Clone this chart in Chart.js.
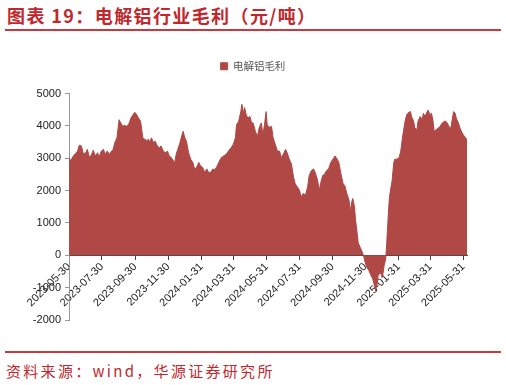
<!DOCTYPE html>
<html>
<head>
<meta charset="utf-8">
<script src="https://cdn.jsdelivr.net/npm/chart.js@4.4.1/dist/chart.umd.min.js"></script>
<style>
  body { margin: 0; width: 506px; height: 385px; background: #fff; position: relative; overflow: hidden; font-family: "Noto Sans CJK SC", sans-serif; }
  #title { position: absolute; left: 7px; top: 2px; font-size: 18px; font-weight: bold; color: #c0282d; letter-spacing: 1.4px; white-space: nowrap; }
  .rule { position: absolute; left: 5px; width: 496px; background: #c83a3e; }
  #source { position: absolute; left: 6px; top: 360px; font-size: 15px; color: #c0282d; letter-spacing: 2.3px; white-space: nowrap; }
  #box { position: absolute; left: 0; top: 34px; width: 506px; height: 310px; }
</style>
</head>
<body>
<div id="title">图表 19：电解铝行业毛利（元/吨）</div>
<div class="rule" style="top:29px;height:2px"></div>
<div id="box"><canvas id="grossChart"></canvas></div>
<div class="rule" style="top:351px;height:2px"></div>
<div id="source">资料来源：wind，华源证券研究所</div>
<script>
// days after 2023-05-30
const days = [
  0, 3, 8, 12, 16, 19, 23, 27, 31, 34, 38, 42, 45, 49, 53, 56, 60, 64, 67, 71,
  75, 79, 82, 85, 89, 93, 96, 100, 103, 107, 111, 115, 118, 122, 126, 129, 133, 137, 141, 144,
  148, 150, 153, 157, 160, 164, 168, 171, 175, 179, 183, 186, 190, 194, 196, 199, 202, 206, 210, 212,
  215, 218, 222, 226, 230, 233, 237, 241, 244, 248, 252, 256, 259, 263, 267, 270, 274, 278, 282, 287,
  292, 296, 301, 305, 309, 311, 315, 319, 321, 324, 326, 329, 332, 336, 339, 342, 346, 350, 353, 357,
  360, 363, 366, 368, 372, 376, 379, 383, 387, 391, 394, 398, 402, 405, 409, 413, 417, 420, 424, 428,
  431, 435, 439, 443, 446, 450, 454, 457, 461, 465, 467, 471, 475, 478, 482, 486, 490, 494, 498, 501,
  505, 509, 512, 516, 520, 522, 525, 527, 530, 532, 535, 537, 541, 545, 547, 550, 553, 557, 561, 564,
  567, 569, 572, 574, 578, 582, 585, 588, 590, 593, 595, 598, 600, 603, 605, 609, 613, 616, 620, 624,
  627, 631, 634, 636, 640, 642, 646, 648, 652, 656, 658, 661, 665, 667, 670, 673, 676, 678, 682, 686,
  689, 693, 697, 700, 704, 708, 710, 714, 717, 719, 723, 726, 730, 734, 736, 739
];
const grossMargin = [
  3020, 2920, 3070, 3140, 3220, 3400, 3380, 3120, 3170, 3275, 3020, 3120, 3245, 3070, 3170, 3040, 3220, 3275, 3120, 3220,
  3120, 3220, 3275, 3480, 3630, 4190, 4090, 3985, 4015, 3985, 4055, 4240, 4320, 4420, 4340, 4240, 4140, 3630, 3580, 3550,
  3580, 3480, 3630, 3480, 3530, 3380, 3325, 3380, 3220, 3170, 3220, 3070, 3020, 2920, 2840, 3120, 3275, 3480, 3730, 3830,
  3630, 3530, 3170, 2970, 2870, 2670, 2720, 2870, 2770, 2720, 2565, 2670, 2565, 2565, 2670, 2640, 2720, 2870, 3000, 3070,
  3120, 3220, 3325, 3430, 3630, 4035, 4140, 4440, 4665, 4390, 4565, 4340, 4240, 4290, 4090, 4090, 3830, 3680, 3935, 4090,
  3730, 4035, 4440, 4035, 3955, 3985, 3630, 3430, 3220, 3220, 3020, 3120, 3275, 3170, 2970, 2820, 2410, 2210, 2110, 2010,
  1805, 1910, 1855, 2110, 2465, 2615, 2670, 2565, 2360, 2010, 2210, 2465, 2515, 2615, 2670, 2870, 2970, 3070, 2970, 2870,
  2515, 2210, 2160, 1905, 1700, 1350, 1650, 1755, 1500, 1095, 690, 385, 233, 80, -20, -225, -375, -475, -630, -730,
  -930, -1100, -900, -630, -530, -680, -325, -120, 385, 1300, 1805, 2110, 2310, 2870, 2970, 2970, 3020, 3220, 3730, 4140,
  4340, 4420, 4440, 4290, 4140, 3935, 3885, 4140, 4290, 4190, 4390, 4290, 4440, 4490, 4340, 4390, 4140, 3830, 3885, 3935,
  3985, 4090, 4140, 4140, 4035, 3885, 4035, 4440, 4390, 4240, 4090, 3935, 3780, 3680, 3630, 3580
];
const tickLabels = [
  "2023-05-30", "2023-07-30", "2023-09-30", "2023-11-30", "2024-01-31", "2024-03-31", "2024-05-31",
  "2024-07-31", "2024-09-30", "2024-11-30", "2025-01-31", "2025-03-31", "2025-05-31"
];
const seriesName = "电解铝毛利";

const startMs = Date.parse(tickLabels[0]);
const tickDays = tickLabels.map((d) => Math.round((Date.parse(d) - startMs) / 86400000));

const latin = "'Liberation Sans', Arial, sans-serif";
const cjk = "'Noto Sans CJK SC', sans-serif";

// legend: extra gap below it, and centred on the whole canvas
const legendTweak = {
  id: "legendTweak",
  beforeInit(chart) {
    const fit = chart.legend.fit;
    chart.legend.fit = function () {
      fit.call(this);
      this.height += 12;
    };
  },
  afterLayout(chart) {
    const lg = chart.legend;
    lg.left = 0;
    lg.right = chart.width;
    lg.width = chart.width;
  },
};

const ctx = document.getElementById("grossChart").getContext("2d");
new Chart(ctx, {
  type: "line",
  data: {
    datasets: [
      {
        label: seriesName,
        data: days.map((d, i) => ({ x: d, y: grossMargin[i] })),
        borderColor: "#b04846",
        backgroundColor: "#b04846",
        borderWidth: 1,
        pointRadius: 0,
        tension: 0,
        fill: "origin",
      },
    ],
  },
  plugins: [legendTweak],
  options: {
    responsive: true,
    maintainAspectRatio: false,
    animation: false,
    layout: { padding: { left: 0, right: 39, top: 8, bottom: 24 } },
    plugins: {
      legend: {
        position: "top",
        labels: {
          boxWidth: 7,
          boxHeight: 7,
          padding: 19,
          color: "#555",
          font: { size: 10.5, family: cjk },
        },
      },
      tooltip: { enabled: false },
    },
    scales: {
      x: {
        type: "linear",
        position: { y: 0 },
        min: 0,
        max: days[days.length - 1],
        afterBuildTicks: (scale) => {
          scale.ticks = tickDays.map((v) => ({ value: v }));
        },
        ticks: {
          autoSkip: false,
          minRotation: 45,
          maxRotation: 45,
          padding: 1,
          color: "#222",
          font: { size: 11, family: latin },
          callback: (value, index) => tickLabels[index],
        },
        grid: { drawOnChartArea: false, tickLength: 4, color: "#444" },
        border: { color: "#444", width: 1 },
      },
      y: {
        min: -2000,
        max: 5000,
        afterFit: (scale) => {
          scale.width = 69;
        },
        ticks: {
          stepSize: 1000,
          padding: 4,
          color: "#222",
          font: { size: 11, family: latin },
          callback: (value) => String(value),
        },
        grid: { drawOnChartArea: false, tickLength: 4, color: "#999" },
        border: { color: "#999", width: 1 },
      },
    },
  },
});
</script>
</body>
</html>
